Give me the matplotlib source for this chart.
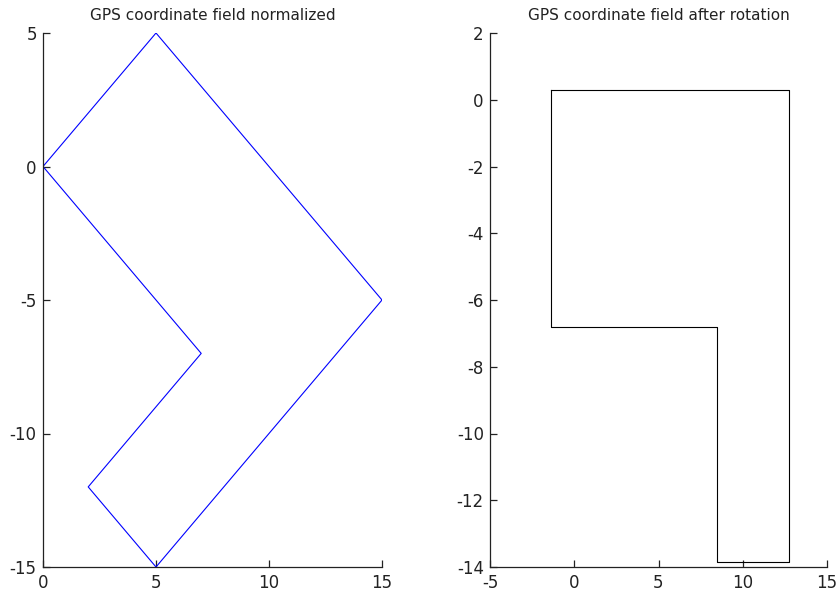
import matplotlib
matplotlib.use("Agg")
import matplotlib.pyplot as plt

# field outline before rotation (closed polygon)
norm_x = [0, 5, 15, 5, 2, 7, 0]
norm_y = [0, 5, -5, -15, -12, -7, 0]

# field outline after rotation (closed polygon)
rot_x = [-1.4, 12.75, 12.75, 8.5, 8.5, -1.4, -1.4]
rot_y = [0.3, 0.3, -13.85, -13.85, -6.8, -6.8, 0.3]

left_xticks = [0, 5, 10, 15]
left_yticks = [-15, -10, -5, 0, 5]
right_xticks = [-5, 0, 5, 10, 15]
right_yticks = [-14, -12, -10, -8, -6, -4, -2, 0, 2]

plt.rcParams['font.family'] = ['DejaVu Sans']
plt.rcParams['axes.unicode_minus'] = False

fig = plt.figure(figsize=(8.39, 5.94), dpi=100)
W, H = 839.0, 594.0
ax1 = fig.add_axes([43 / W, 1 - 567 / H, 339 / W, 534 / H])
ax2 = fig.add_axes([490 / W, 1 - 567 / H, 337 / W, 534 / H])

def style(ax, title):
    ax.set_title(title, fontsize=11, pad=9, color='#222222')
    ax.spines['top'].set_visible(False)
    ax.spines['right'].set_visible(False)
    for s in ('left', 'bottom'):
        ax.spines[s].set_linewidth(0.9)
        ax.spines[s].set_color('#222222')
    ax.tick_params(direction='in', length=5, width=0.9, labelsize=12,
                   colors='#222222', labelcolor='#222222')
    ax.tick_params(axis='x', pad=5)
    ax.tick_params(axis='y', pad=4.5)

ax1.plot(norm_x, norm_y, color=(0, 0, 1), lw=0.8)
ax1.set_xlim(0, 15)
ax1.set_ylim(-15, 5)
ax1.set_xticks(left_xticks)
ax1.set_yticks(left_yticks)
style(ax1, "GPS coordinate field normalized")

ax2.plot(rot_x, rot_y, color='black', lw=0.8)
ax2.set_xlim(-5, 15)
ax2.set_ylim(-14, 2)
ax2.set_xticks(right_xticks)
ax2.set_yticks(right_yticks)
style(ax2, "GPS coordinate field after rotation")

fig.savefig("out.png", dpi=100)
